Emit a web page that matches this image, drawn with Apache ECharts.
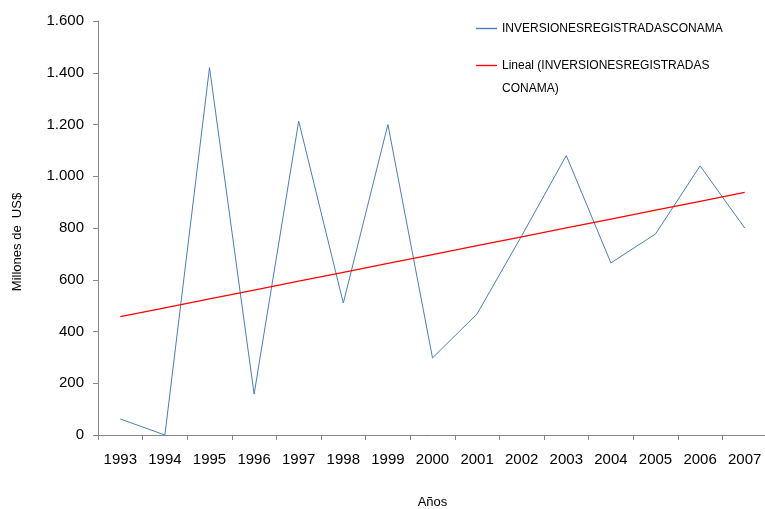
<!DOCTYPE html>
<html>
<head>
<meta charset="utf-8">
<script src="https://cdn.jsdelivr.net/npm/echarts@6/dist/echarts.min.js"></script>
<style>html,body{margin:0;padding:0;background:#fff}#c{width:765px;height:509px}</style>
</head>
<body>
<div id="c"></div>
<script>
const years = ['1993','1994','1995','1996','1997','1998','1999','2000','2001','2002','2003','2004','2005','2006','2007'];
const inversiones = [62, 0, 1420, 158, 1213, 510, 1200, 298, 468, 770, 1080, 665, 777, 1040, 800];
const seriesName = 'INVERSIONESREGISTRADASCONAMA';
const trendName = 'Lineal (INVERSIONESREGISTRADAS CONAMA)';
const yTicks = [0, 200, 400, 600, 800, 1000, 1200, 1400, 1600];

// Excel-style linear trendline (least squares) over the series
const n = inversiones.length;
const mx = (n - 1) / 2;
const my = inversiones.reduce((a, b) => a + b, 0) / n;
let sxy = 0, sxx = 0;
inversiones.forEach((v, i) => { sxy += (i - mx) * (v - my); sxx += (i - mx) * (i - mx); });
const slope = sxy / sxx;
const trend = inversiones.map((v, i) => my + slope * (i - mx));

const font = 'Liberation Sans, Arial, sans-serif';
const legendText = {fontFamily: font, fontSize: 12, color: '#000', lineHeight: 23};
const chart = echarts.init(document.getElementById('c'), null, {renderer: 'canvas'});
chart.setOption({
  animation: false,
  backgroundColor: '#ffffff',
  textStyle: {fontFamily: font},
  grid: {left: 98, right: -2, top: 21, bottom: 74, containLabel: false, outerBoundsMode: 'none'},
  legend: [{
    data: [seriesName],
    left: 471, top: 12, orient: 'vertical',
    icon: 'path://M0,0 L20,0 L20,1.3 L0,1.3 Z',
    itemWidth: 21, itemHeight: 2, itemGap: 0,
    textStyle: legendText
  }, {
    data: [trendName],
    left: 471, top: 26, orient: 'vertical',
    icon: 'path://M0,0 L20,0 L20,1.3 L0,1.3 Z',
    itemWidth: 21, itemHeight: 2, itemGap: 0,
    formatter: function (name) { return '\nLineal (INVERSIONESREGISTRADAS\nCONAMA)'; },
    textStyle: legendText
  }],
  xAxis: {
    type: 'category',
    data: years,
    boundaryGap: true,
    name: 'Años',
    nameLocation: 'middle',
    nameGap: 61,
    nameTextStyle: {fontSize: 13, color: '#000', fontFamily: font},
    axisLine: {lineStyle: {color: '#868686', width: 1}},
    axisTick: {show: true, alignWithLabel: false, length: 5, lineStyle: {color: '#868686'}},
    axisLabel: {fontSize: 15, color: '#000', margin: 17, interval: 0, fontFamily: font},
    splitLine: {show: false}
  },
  yAxis: {
    type: 'value',
    min: yTicks[0], max: yTicks[yTicks.length - 1], interval: 200,
    name: 'Millones de  US$',
    nameLocation: 'middle',
    nameGap: 74,
    nameRotate: 90,
    nameTextStyle: {fontSize: 13, color: '#000', fontFamily: font, padding: [0, 28, 0, 0]},
    axisLine: {show: true, lineStyle: {color: '#868686', width: 1}},
    axisTick: {show: true, length: 5, lineStyle: {color: '#868686'}},
    axisLabel: {fontSize: 15, color: '#000', margin: 14, fontFamily: font,
      formatter: function (v) { return String(v).replace(/\B(?=(\d{3})+(?!\d))/g, '.'); }},
    splitLine: {show: false}
  },
  series: [{
    name: seriesName,
    type: 'line',
    data: inversiones,
    symbol: 'none',
    lineStyle: {color: '#4a7ebb', width: 1},
    itemStyle: {color: '#4a7ebb'}
  }, {
    name: trendName,
    type: 'line',
    data: trend,
    symbol: 'none',
    lineStyle: {color: '#ff0000', width: 1.3},
    itemStyle: {color: '#ff0000'}
  }]
});
</script>
</body>
</html>
